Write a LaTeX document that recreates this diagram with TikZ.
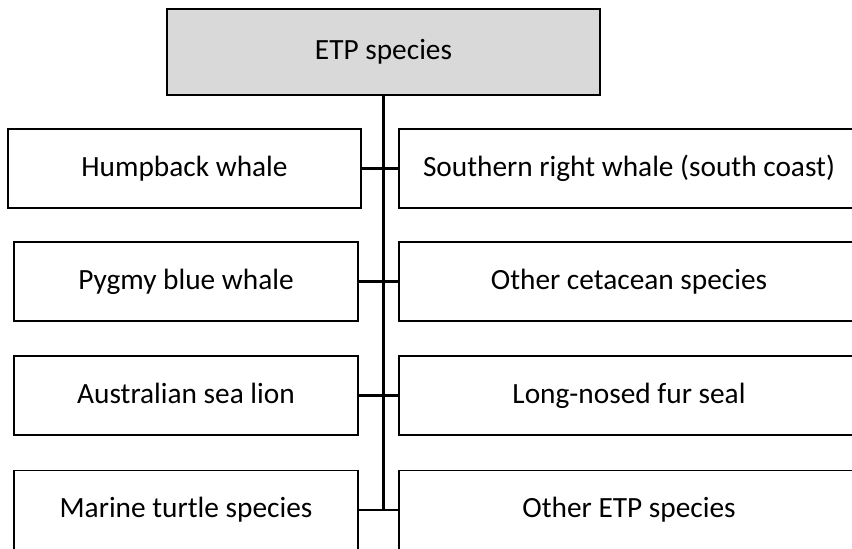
\documentclass[tikz,border=0pt]{standalone}
\usepackage{fontspec}
\setmainfont{Carlito}
\definecolor{headgrey}{HTML}{D9D9D9}
\begin{document}
\begin{tikzpicture}[x=0.02cm, y=-0.02cm, line width=0.85pt, font=\fontsize{16.7}{20}\selectfont,
    spbox/.style={draw, minimum height=1.58cm, inner sep=0pt, text height=1.06em, text depth=0.2em},
    leftbox/.style={spbox, minimum width=6.88cm},
    rightbox/.style={spbox, minimum width=9.2cm}]
    \useasboundingbox (0,0) rectangle (852,548);
    \node[spbox, fill=headgrey, minimum width=8.66cm, minimum height=1.72cm] (etp) at (383.5,52) {ETP species};
    \node[leftbox, minimum width=7.06cm] (hw) at (184.5,168.5) {Humpback whale};
    \node[leftbox] (pbw) at (186,281.5) {Pygmy blue whale};
    \node[leftbox] (asl) at (186,395.5) {Australian sea lion};
    \node[leftbox] (mt) at (186,510) {Marine turtle species};
    \node[rightbox] (srw) at (629,168.5) {Southern right whale (south coast)};
    \node[rightbox] (ocs) at (629,281.5) {Other cetacean species};
    \node[rightbox] (lnfs) at (629,395.5) {Long-nosed fur seal};
    \node[rightbox] (oetp) at (629,510) {Other ETP species};
    \draw[line width=1.4pt] (etp.south) -- (etp.south |- mt.east);
    \foreach \l/\r in {hw/srw, pbw/ocs, asl/lnfs, mt/oetp}
        \draw[line width=1.2pt] (\l.east) -- (\r.west);
\end{tikzpicture}
\end{document}
